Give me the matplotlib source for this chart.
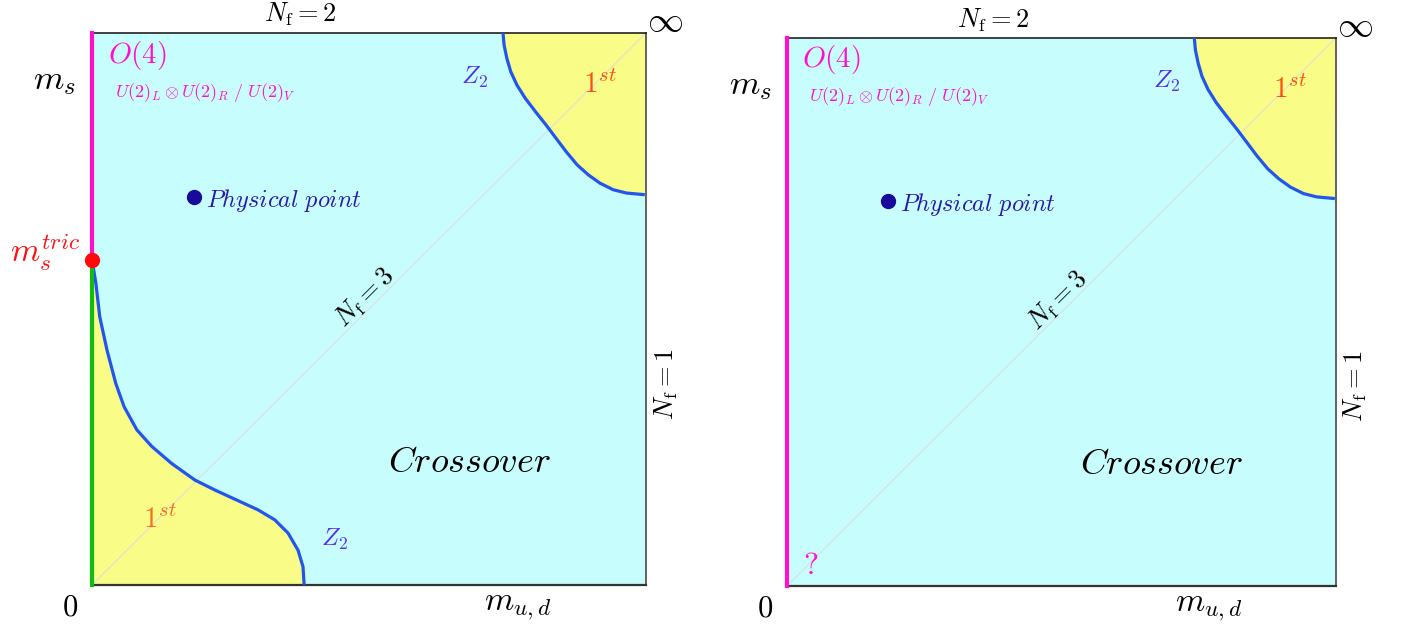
import matplotlib
matplotlib.use('Agg')
import matplotlib.pyplot as plt

plt.rcParams['mathtext.fontset'] = 'cm'
plt.rcParams['font.family'] = 'DejaVu Serif'

# colours
cyan = '#c8fdfd'
yellow = '#fafc88'
blue = '#2255ee'
magenta = '#ff10cc'
green = '#11bb11'

# upper right Z2 line (m_ud, m_s), fraction of the axis
upper_x = [0.742, 0.744, 0.749, 0.756, 0.767, 0.782, 0.801, 0.820, 0.838, 0.856, 0.876, 0.896, 0.917, 0.941, 0.965, 0.998]
upper_y = [1.000, 0.978, 0.954, 0.930, 0.906, 0.882, 0.857, 0.833, 0.809, 0.785, 0.761, 0.743, 0.728, 0.716, 0.710, 0.707]

# lower left Z2 line (left panel only)
lower_x = [0.000, 0.007, 0.014, 0.027, 0.043, 0.058, 0.081, 0.108, 0.144, 0.186, 0.222, 0.261, 0.300, 0.330, 0.354, 0.372, 0.381, 0.383]
lower_y = [0.589, 0.547, 0.486, 0.426, 0.365, 0.323, 0.281, 0.251, 0.220, 0.190, 0.172, 0.154, 0.136, 0.118, 0.094, 0.063, 0.033, 0.000]

m_tric = 0.589
phys_point = (0.184, 0.703)


def draw_panel(ax, left_panel):
    ax.set_xlim(0, 1)
    ax.set_ylim(0, 1)
    ax.set_facecolor(cyan)
    ax.set_xticks([])
    ax.set_yticks([])
    ax.spines['left'].set_visible(False)
    ax.spines['top'].set_color('#222222')
    ax.spines['bottom'].set_color('#333333')
    ax.spines['right'].set_color('#555555')
    ax.spines['top'].set_linewidth(1.2)
    ax.spines['bottom'].set_linewidth(1.6)
    ax.spines['right'].set_linewidth(1.3)

    # N_f = 3 diagonal
    ax.plot([0, 1], [0, 1], color='#dcdcdc', lw=0.7, zorder=1)

    # first order corner (heavy quarks)
    ax.fill(upper_x + [1.0], upper_y + [1.0], color=yellow, lw=0, zorder=0.5)
    ax.plot(upper_x, upper_y, color=blue, lw=2.3, solid_capstyle='butt',
            solid_joinstyle='round', zorder=3)

    if left_panel:
        ax.fill(lower_x + [0.0], lower_y + [0.0], color=yellow, lw=0, zorder=0.5)
        ax.plot(lower_x, lower_y, color=blue, lw=2.3, solid_capstyle='butt',
                solid_joinstyle='round', zorder=3)
        ax.plot([0, 0], [m_tric, 1], color=magenta, lw=3, clip_on=False, zorder=4)
        ax.plot([0, 0], [0, m_tric], color=green, lw=3, clip_on=False, zorder=4)
        ax.plot([0], [m_tric], 'o', color='#ff0a0a', ms=10, clip_on=False, zorder=5)
        ax.text(-0.085, 0.603, r'$m_s^{tric}$', color='#ff1010', fontsize=24,
                ha='center', va='center')
        ax.text(0.437, 0.082, r'$Z_2$', color='#5530ee', fontsize=18, ha='center', va='center')
        ax.text(0.123, 0.118, r'$1^{st}$', color='#ff6a1a', fontsize=21, ha='center', va='center')
    else:
        ax.plot([0, 0], [0, 1], color=magenta, lw=3, clip_on=False, zorder=4)
        ax.text(0.044, 0.038, r'$?$', color=magenta, fontsize=23, ha='center', va='center')

    # physical point
    ax.plot([phys_point[0]], [phys_point[1]], 'o', color='#1a0a9c', ms=10, zorder=5)
    ax.text(phys_point[0] + 0.022, phys_point[1] - 0.006, r'$Physical\ point$', color='#2a18a8',
            fontsize=17.5, ha='left', va='center')

    ax.text(0.375, 1.033, r'$N_{\rm f}=2$', fontsize=19, ha='center', va='center', clip_on=False)
    ax.text(1.034, 1.022, r'$\infty$', fontsize=26, ha='center', va='center')
    ax.text(-0.067, 0.915, r'$m_s$', fontsize=25, ha='center', va='center')
    ax.text(-0.040, -0.040, r'$0$', fontsize=22, ha='center', va='center')
    ax.text(0.769, -0.038, r'$m_{u,d}$', fontsize=24, ha='center', va='center')
    ax.text(1.036, 0.364, r'$N_{\rm f}=1$', fontsize=19, ha='center', va='center', rotation=90)
    ax.text(0.493, 0.520, r'$N_{\rm f}=3$', fontsize=19, ha='center', va='center', rotation=45,
            rotation_mode='anchor')
    ax.text(0.682, 0.223, r'$Crossover$', fontsize=26, ha='center', va='center')
    ax.text(0.081, 0.960, r'$O(4)$', color=magenta, fontsize=21, ha='center', va='center')
    ax.text(0.204, 0.893, r'$U(2)_L\otimes U(2)_R\ /\ U(2)_V$', color=magenta, fontsize=13,
            ha='center', va='center')
    ax.text(0.691, 0.920, r'$Z_2$', color='#5530ee', fontsize=18, ha='center', va='center')
    ax.text(0.917, 0.906, r'$1^{st}$', color='#ff4d10', fontsize=21, ha='center', va='center')


fig = plt.figure(figsize=(14.02, 6.28), dpi=100)
ax1 = fig.add_axes([0.0656, 0.0685, 0.3951, 0.879])
ax2 = fig.add_axes([0.5613, 0.0669, 0.3916, 0.8726])
draw_panel(ax1, True)
draw_panel(ax2, False)

fig.savefig('out.png', dpi=100)
